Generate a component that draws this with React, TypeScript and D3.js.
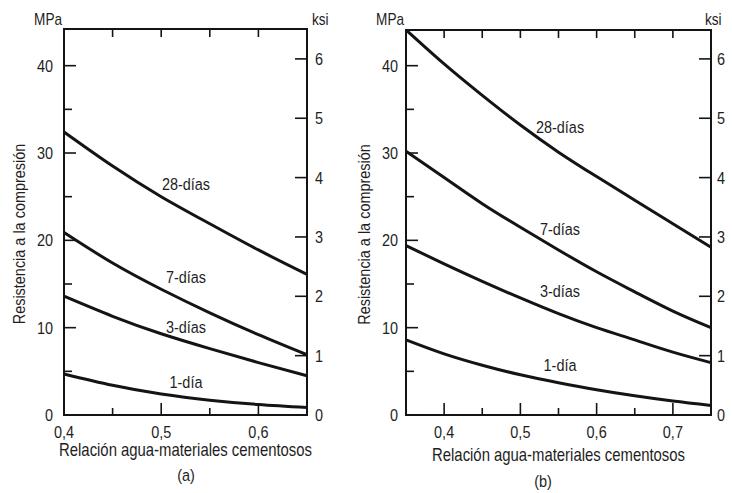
import React from 'react';
import * as d3 from 'd3';

// ---- data ----
const ratiosA = [0.4, 0.45, 0.5, 0.55, 0.6, 0.65];
const a28 = [32.4, 28.5, 25.0, 21.9, 18.9, 16.1];
const a7 = [20.9, 17.4, 14.4, 11.7, 9.2, 6.9];
const a3 = [13.6, 11.3, 9.3, 7.6, 6.0, 4.5];
const a1 = [4.7, 3.4, 2.4, 1.7, 1.2, 0.85];

const ratiosB = [0.35, 0.4, 0.45, 0.5, 0.55, 0.6, 0.65, 0.7, 0.75];
const b28 = [44.1, 40.2, 36.6, 33.2, 30.1, 27.3, 24.6, 21.9, 19.2];
const b7 = [30.2, 27.2, 24.2, 21.5, 18.9, 16.4, 14.1, 11.9, 10.0];
const b3 = [19.4, 17.3, 15.3, 13.4, 11.6, 10.0, 8.6, 7.2, 6.0];
const b1 = [8.6, 7.0, 5.7, 4.6, 3.7, 2.9, 2.2, 1.6, 1.1];

const seriesNames = ['28-días', '7-días', '3-días', '1-día'];
const labelMpaA = [26.5, 15.8, 10.1, 3.8];
const labelMpaB = [33.0, 21.3, 14.2, 5.7];

const mpaMajor = [0, 10, 20, 30, 40];
const mpaMinor = [5, 15, 25, 35];
const ksiTicks = [0, 1, 2, 3, 4, 5, 6];
const xMajorA = [0.4, 0.5, 0.6];
const xMinorA = [0.45, 0.55];
const xTopA = [0.45, 0.5, 0.55, 0.6];
const xMajorB = [0.4, 0.5, 0.6, 0.7];
const xMinorB = [0.45, 0.55, 0.65];
const xTopB = [0.4, 0.45, 0.5, 0.55, 0.6, 0.65, 0.7];

const FONT = '"Liberation Sans", Arial, sans-serif';
const INK = '#141414';
const TXT = '#1e1e1e';
const SX = 0.85;

function Txt(props: { x: number; y: number; size: number; anchor?: string; rotate?: number; children: React.ReactNode }) {
  const { x, y, size, anchor = 'middle', rotate = 0, children } = props;
  return (
    <text transform={`translate(${x},${y})${rotate ? ` rotate(${rotate})` : ''} scale(${SX},1)`}
      dy="0.36em" textAnchor={anchor} fontSize={size}>{children}</text>
  );
}

type PanelProps = {
  x0: number; x1: number; yTop: number; yBot: number;
  domain: [number, number];
  ratios: number[];
  series: number[][];
  labelX: number;
  labelMpa: number[];
  xMajor: number[]; xMinor: number[]; xTop: number[];
  caption: string; captionX: number; captionY: number; titleY: number;
  yTitleX: number;
  mpaLabelX: number; ksiLabelX: number; ksiUnitX: number;
};

function fmt(v: number) {
  return v.toFixed(1).replace('.', ',');
}

function Panel(p: PanelProps) {
  const x = d3.scaleLinear().domain(p.domain).range([p.x0, p.x1]);
  const mpaTop = (p.yBot - p.yTop) / 8.733;
  const ksiTop = (p.yBot - p.yTop) / 59.35;
  const y = d3.scaleLinear().domain([0, mpaTop]).range([p.yBot, p.yTop]);
  const yk = d3.scaleLinear().domain([0, ksiTop]).range([p.yBot, p.yTop]);
  const line = d3.line<[number, number]>()
    .x(d => x(d[0]))
    .y(d => y(d[1]))
    .curve(d3.curveNatural);
  const midX = (p.x0 + p.x1) / 2;
  const midY = (p.yTop + p.yBot) / 2 + 12;
  return (
    <g fontFamily={FONT} fill={TXT}>
      {p.series.map((s, i) => (
        <path key={'c' + i}
          d={line(p.ratios.map((r, j) => [r, s[j]] as [number, number])) || ''}
          fill="none" stroke={INK} strokeWidth={3} />
      ))}
      <rect x={p.x0} y={p.yTop} width={p.x1 - p.x0} height={p.yBot - p.yTop}
        fill="none" stroke={INK} strokeWidth={2} />
      {mpaMajor.map(v => (
        <g key={'lm' + v}>
          <line x1={p.x0} x2={p.x0 + 12} y1={y(v)} y2={y(v)} stroke={INK} strokeWidth={1.6} />
          <Txt x={p.mpaLabelX} y={y(v)} size={17} anchor="end">{v}</Txt>
        </g>
      ))}
      {mpaMinor.map(v => (
        <line key={'ln' + v} x1={p.x0} x2={p.x0 + 8} y1={y(v)} y2={y(v)} stroke={INK} strokeWidth={1.6} />
      ))}
      {ksiTicks.map(v => (
        <g key={'k' + v}>
          {v > 0 && <line x1={p.x1 - 12} x2={p.x1} y1={yk(v)} y2={yk(v)} stroke={INK} strokeWidth={1.6} />}
          <Txt x={p.ksiLabelX} y={yk(v)} size={17} anchor="start">{v}</Txt>
        </g>
      ))}
      {p.xTop.map(v => (
        <line key={'t' + v} x1={x(v)} x2={x(v)} y1={p.yTop} y2={p.yTop + 8} stroke={INK} strokeWidth={1.6} />
      ))}
      {p.xMajor.map(v => (
        <g key={'bm' + v}>
          <line x1={x(v)} x2={x(v)} y1={p.yBot} y2={p.yBot - 12} stroke={INK} strokeWidth={1.6} />
          <Txt x={x(v)} y={p.yBot + 17} size={17}>{fmt(v)}</Txt>
        </g>
      ))}
      {p.xMinor.map(v => (
        <line key={'bn' + v} x1={x(v)} x2={x(v)} y1={p.yBot} y2={p.yBot - 7} stroke={INK} strokeWidth={1.6} />
      ))}
      <Txt x={p.x0 - 2} y={19} size={16} anchor="end">MPa</Txt>
      <Txt x={p.ksiUnitX} y={19} size={16} anchor="start">ksi</Txt>
      {seriesNames.map((n, i) => (
        <Txt key={'n' + i} x={x(p.labelX)} y={y(p.labelMpa[i])} size={17}>{n}</Txt>
      ))}
      <Txt x={midX} y={p.titleY} size={17.5}>Relación agua-materiales cementosos</Txt>
      <Txt x={p.yTitleX} y={midY} size={17} rotate={-90}>Resistencia a la compresión</Txt>
      <Txt x={p.captionX} y={p.captionY} size={17}>{p.caption}</Txt>
    </g>
  );
}

export default function App() {
  return (
    <svg width={732} height={493} viewBox="0 0 732 493"
      style={{ position: 'absolute', left: 0, top: 0, background: '#fff' }}>
      <rect width={732} height={493} fill="#fff" />
      <Panel x0={64} x1={307} yTop={29} yBot={415} domain={[0.4, 0.65]}
        ratios={ratiosA} series={[a28, a7, a3, a1]} labelX={0.5255} labelMpa={labelMpaA}
        xMajor={xMajorA} xMinor={xMinorA} xTop={xTopA}
        caption="(a)" captionX={186} captionY={475} titleY={450} yTitleX={19}
        mpaLabelX={53} ksiLabelX={315} ksiUnitX={312} />
      <Panel x0={406} x1={711} yTop={30} yBot={415} domain={[0.35, 0.75]}
        ratios={ratiosB} series={[b28, b7, b3, b1]} labelX={0.552} labelMpa={labelMpaB}
        xMajor={xMajorB} xMinor={xMinorB} xTop={xTopB}
        caption="(b)" captionX={543} captionY={481} titleY={455} yTitleX={364}
        mpaLabelX={398} ksiLabelX={717} ksiUnitX={705} />
    </svg>
  );
}
